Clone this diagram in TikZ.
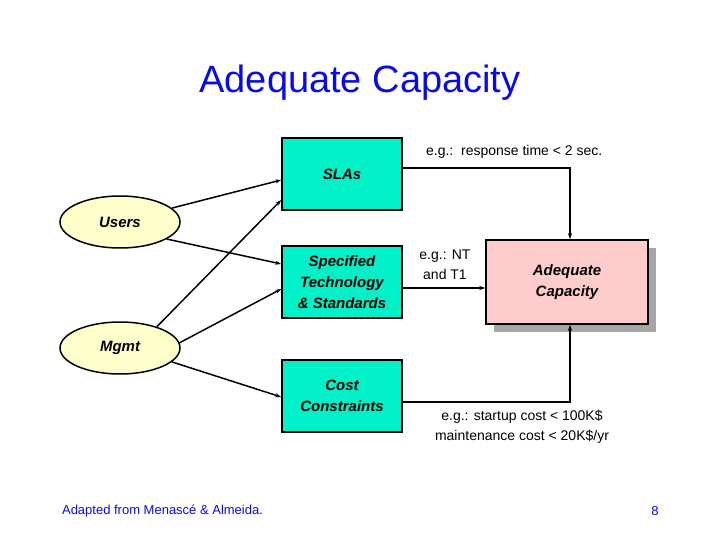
\documentclass[tikz,border=0pt]{standalone}
\usepackage{fontspec}
\setmainfont{Liberation Sans}
\usetikzlibrary{arrows.meta,shapes.geometric}
\definecolor{boxteal}{RGB}{0,240,200}
\definecolor{ovalyel}{RGB}{255,255,204}
\definecolor{boxpink}{RGB}{255,204,204}
\definecolor{titleblue}{RGB}{10,10,230}
\begin{document}
\begin{tikzpicture}[x=1pt,y=-1pt,line width=1.5pt,
  factor/.style={draw,fill=boxteal,minimum width=120pt,minimum height=72pt,inner sep=1pt,align=center,font=\fontsize{15}{21}\selectfont\bfseries\itshape},
  actor/.style={draw,ellipse,fill=ovalyel,minimum width=120pt,minimum height=52pt,font=\fontsize{15}{18}\selectfont\bfseries\itshape},
  note/.style={font=\fontsize{14}{20}\selectfont,align=center},
  arr/.style={-{Stealth[length=6pt,width=4pt]}}]
\useasboundingbox (0,0) rectangle (720,540);

% Title
\node[text=titleblue,font=\fontsize{38}{44}\selectfont] (title) at (360,83) {Adequate Capacity};

% Factor boxes
\node[factor] (slas) at (342,174) {SLAs};
\node[factor] (spec) at (342,282) {Specified\\Technology\\\& Standards};
\node[factor] (cost) at (342,396) {Cost\\Constraints};

% Result box with shadow
\fill[gray!70,line width=0pt] (494,248) rectangle (656,332);
\node[draw,fill=boxpink,minimum width=162pt,minimum height=84pt,align=center,
  font=\fontsize{15}{21}\selectfont\bfseries\itshape] (cap) at (567,282) {Adequate\\Capacity};

% Actors
\node[actor] (users) at (120,222) {Users};
\node[actor] (mgmt) at (120,348) {Mgmt};

% Actor connectors
\draw[arr] (users.15) -- ([yshift=-6pt]slas.west);
\draw[arr] (users.-20) -- ([yshift=18pt]spec.west);
\draw[arr] (mgmt.30) -- ([yshift=-26pt]slas.west);
\draw[arr] (mgmt.5) -- ([yshift=-7pt]spec.west);
\draw[arr] (mgmt.-15) -- ([yshift=-1pt]cost.west);

% Flows into result
\coordinate (topbend) at (570,168);
\coordinate (botbend) at (570,402);
\draw[arr] ([yshift=6pt]slas.east) -- (topbend) -- (cap.north -| topbend);
\draw[arr] ([yshift=-6pt]spec.east) -- (cap.west |- 0,288);
\draw[arr] ([yshift=-6pt]cost.east) -- (botbend) -- (cap.south -| botbend);

% Example notes
\node[note,anchor=west] (n1) at (422,152) {e.g.:\ \ response time < 2 sec.};
\node[note] (n2) at (445,265) {e.g.: NT\\and T1};
\node[note] (n3) at (522,427) {e.g.: startup cost < 100K\$\\maintenance cost < 20K\$/yr};

% Footer
\node[anchor=west,text=titleblue,font=\fontsize{13}{15}\selectfont] (src) at (58,511) {Adapted from Menascé \& Almeida.};
\node[text=titleblue,font=\fontsize{13}{15}\selectfont] (pg) at (655,511) {8};
\end{tikzpicture}
\end{document}
